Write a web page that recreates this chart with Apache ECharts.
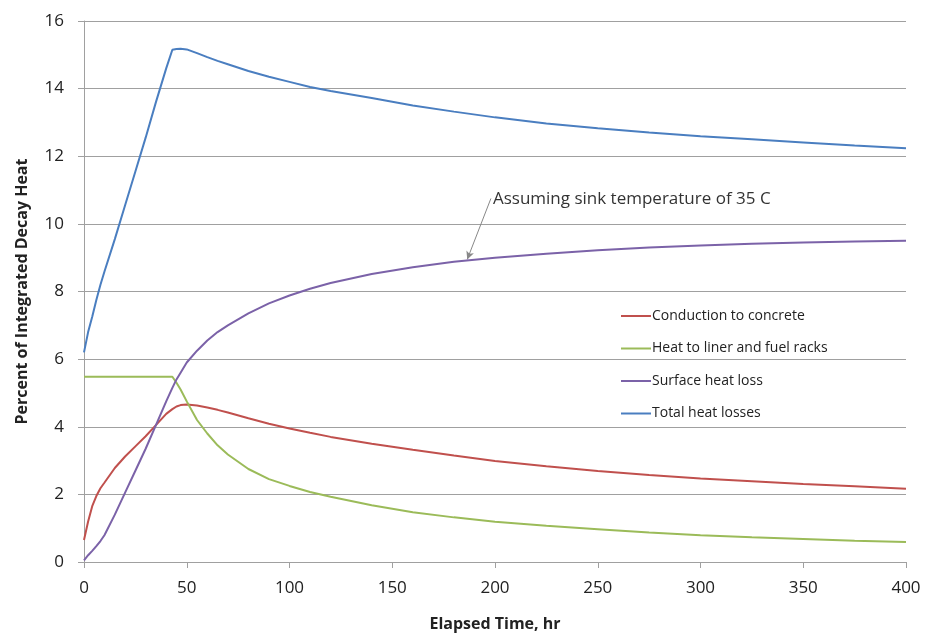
<!DOCTYPE html>
<html>
<head>
<meta charset="utf-8">
<script src="https://cdn.jsdelivr.net/npm/echarts@6/dist/echarts.min.js"></script>
<style>html,body{margin:0;padding:0;background:#fff}#c{width:930px;height:637px}</style>
</head>
<body>
<div id="c"></div>
<script>
const hours = [0,2,4,6,8,10,15,20,25,30,35,40,43,45,47,50,55,60,65,70,80,90,100,110,120,140,160,180,200,225,250,275,300,325,350,375,400];
const conduction = [0.65,1.2,1.65,1.95,2.18,2.35,2.78,3.12,3.42,3.72,4.05,4.38,4.52,4.6,4.64,4.66,4.63,4.57,4.5,4.42,4.25,4.09,3.95,3.82,3.7,3.5,3.32,3.15,2.99,2.83,2.69,2.57,2.47,2.39,2.31,2.24,2.17];
const liner = [5.48,5.48,5.48,5.48,5.48,5.48,5.48,5.48,5.48,5.48,5.48,5.48,5.48,5.3,5.1,4.75,4.2,3.8,3.45,3.18,2.75,2.45,2.25,2.07,1.93,1.68,1.47,1.32,1.19,1.07,0.97,0.87,0.79,0.73,0.68,0.63,0.59];
const surface = [0.05,0.2,0.33,0.47,0.62,0.8,1.4,2.05,2.7,3.35,4.05,4.75,5.15,5.4,5.6,5.9,6.25,6.55,6.8,7.0,7.35,7.65,7.88,8.08,8.25,8.52,8.72,8.88,9.0,9.12,9.22,9.3,9.36,9.41,9.45,9.48,9.5];
const total = [6.2,6.8,7.25,7.75,8.2,8.6,9.55,10.55,11.55,12.55,13.6,14.6,15.15,15.17,15.18,15.16,15.05,14.93,14.82,14.72,14.52,14.35,14.2,14.05,13.93,13.72,13.5,13.32,13.15,12.97,12.83,12.7,12.59,12.5,12.41,12.32,12.24];
const seriesNames = ['Conduction to concrete','Heat to liner and fuel racks','Surface heat loss','Total heat losses'];
const seriesColors = ['#C0504D','#9BBB59','#7B62A8','#4A7EC0'];
const annotationText = 'Assuming sink temperature of 35 C';
const annotationTextPos = [199, 10.73];
const annotationArrow = [[198, 10.75],[186.5, 8.95]];

const pairs = v => hours.map((h,i)=>[h,v[i]]);
const font = 'Open Sans, Noto Sans, sans-serif';

const chart = echarts.init(document.getElementById('c'));
const mk = (i, vals) => ({
  name: seriesNames[i], type: 'line', data: pairs(vals), symbol: 'none', smooth: false,
  lineStyle: {color: seriesColors[i], width: 2}, itemStyle: {color: seriesColors[i]}, z: 3 + i
});
const series = [mk(0,conduction), mk(1,liner), mk(2,surface), mk(3,total)];
series[2].markLine = {
  silent: true, symbol: ['none','arrow'], symbolSize: [6,8],
  lineStyle: {color: '#888', width: 1, type: 'solid'}, label: {show: false},
  data: [[{coord: annotationArrow[0]}, {coord: annotationArrow[1]}]]
};
series[2].markPoint = {
  silent: true, symbol: 'circle', symbolSize: 0,
  data: [{coord: annotationTextPos}],
  label: {show: true, position: 'right', distance: 0, formatter: annotationText, color: '#333', fontSize: 17, fontFamily: font}
};

chart.setOption({
  animation: false,
  backgroundColor: '#fff',
  grid: {left: 84, right: 24, top: 21, bottom: 71},
  legend: {
    orient: 'vertical', left: 616, top: 304, itemWidth: 30, itemHeight: 2, itemGap: 18.5, icon: 'rect',
    textStyle: {fontSize: 14, color: '#222', fontFamily: font, padding: [0,0,0,-4]},
    data: seriesNames
  },
  xAxis: {
    type: 'value', min: 0, max: 400, interval: 50,
    name: 'Elapsed Time, hr', nameLocation: 'middle', nameGap: 54,
    nameTextStyle: {fontSize: 16, fontWeight: 'bold', color: '#222', fontFamily: font},
    axisLine: {show: true, lineStyle: {color: '#A0A0A0'}},
    axisTick: {show: true, length: 6, lineStyle: {color: '#A0A0A0'}},
    axisLabel: {fontSize: 17, color: '#222', margin: 18, fontFamily: font},
    splitLine: {show: false}
  },
  yAxis: {
    type: 'value', min: 0, max: 16, interval: 2,
    name: 'Percent of Integrated Decay Heat', nameLocation: 'middle', nameGap: 54, nameRotate: 90,
    nameTextStyle: {fontSize: 16, fontWeight: 'bold', color: '#222', fontFamily: font},
    axisLine: {show: true, lineStyle: {color: '#A0A0A0'}},
    axisTick: {show: true, length: 6, lineStyle: {color: '#A0A0A0'}},
    axisLabel: {fontSize: 17, color: '#222', margin: 20, fontFamily: font},
    splitLine: {show: true, lineStyle: {color: '#A0A0A0', width: 1}}
  },
  series: series
});
</script>
</body>
</html>
